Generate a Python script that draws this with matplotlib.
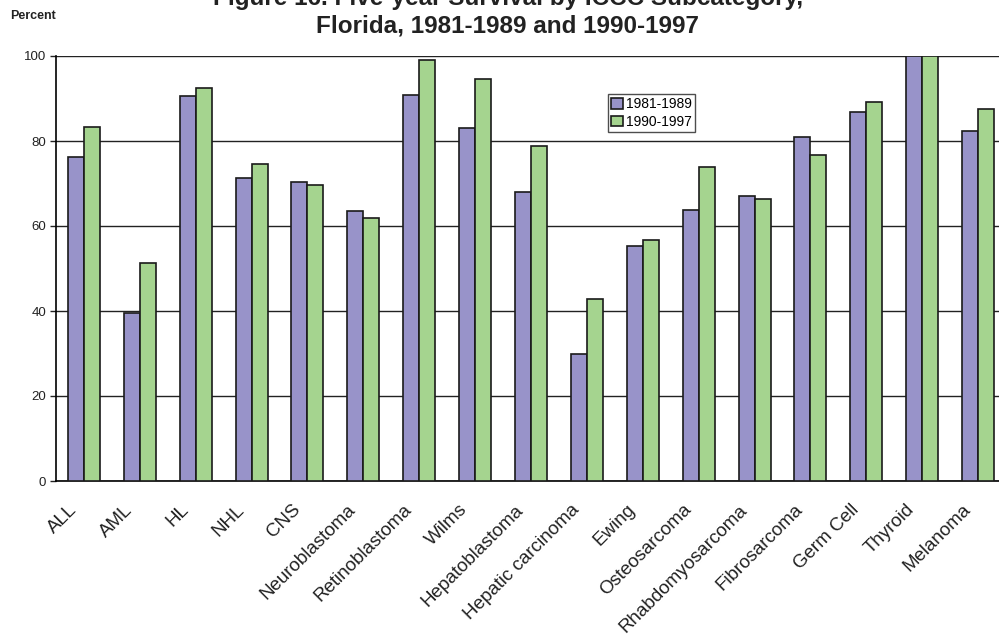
import matplotlib
matplotlib.use("Agg")
import matplotlib.pyplot as plt
import matplotlib.transforms as mtransforms
import numpy as np

categories = ["ALL", "AML", "HL", "NHL", "CNS", "Neuroblastoma", "Retinoblastoma",
              "Wilms", "Hepatoblastoma", "Hepatic carcinoma", "Ewing", "Osteosarcoma",
              "Rhabdomyosarcoma", "Fibrosarcoma", "Germ Cell", "Thyroid", "Melanoma"]
s1981 = [76.2, 39.5, 90.7, 71.2, 70.4, 63.6, 90.8, 83.0, 68.0, 30.0, 55.4, 63.8,
         67.0, 80.9, 86.8, 100.0, 82.3]
s1990 = [83.3, 51.2, 92.5, 74.5, 69.6, 62.0, 99.0, 94.5, 78.8, 42.8, 56.6, 74.0,
         66.3, 76.8, 89.2, 100.0, 87.5]
series_labels = ["1981-1989", "1990-1997"]
yticks = [0, 20, 40, 60, 80, 100]

plt.rcParams['font.family'] = ['Liberation Sans', 'DejaVu Sans']

W, H = 999, 641
fig = plt.figure(figsize=(W / 100, H / 100), dpi=100)
ax = fig.add_axes([56 / W, 1 - 481 / H, 950 / W, 425 / H])

x = np.arange(len(categories))
bw = 0.286
ax.bar(x - bw / 2, s1981, width=bw, color='#9893C9', edgecolor='#1a1a1a',
       linewidth=1.2, label=series_labels[0], zorder=3)
ax.bar(x + bw / 2, s1990, width=bw, color='#A5D48F', edgecolor='#1a1a1a',
       linewidth=1.2, label=series_labels[1], zorder=3)

ax.set_xlim(-0.5, len(categories) - 0.5)
ax.set_ylim(0, 100)
ax.set_yticks(yticks)
ax.tick_params(axis='y', labelsize=9.5, length=4, width=1, colors='#222222', pad=3)
ax.yaxis.grid(True, color='#222222', linewidth=1, zorder=0)
ax.set_xticks(x)
ax.set_xticklabels(categories, rotation=45, ha='right', rotation_mode='anchor',
                   fontsize=13.5, color='#222222')
ax.tick_params(axis='x', length=0, pad=11)
offset = mtransforms.ScaledTranslation(-16 / 100, -5 / 100, fig.dpi_scale_trans)
for lbl in ax.get_xticklabels():
    lbl.set_transform(lbl.get_transform() + offset)

for side in ['top', 'right']:
    ax.spines[side].set_visible(False)
ax.spines['left'].set_linewidth(1.2)
ax.spines['bottom'].set_linewidth(1.2)

leg = ax.legend(loc='upper left', bbox_to_anchor=(0.581, 0.911), fontsize=10,
                frameon=True, fancybox=False, edgecolor='#222222',
                handlelength=0.8, handleheight=0.8, handletextpad=0.25,
                borderpad=0.25, labelspacing=0.25, borderaxespad=0)
leg.get_frame().set_linewidth(1.0)

tx = 508 / W
fig.text(tx, 1 - 5 / H, "Figure 16. Five-year Survival by ICCC Subcategory,",
         ha='center', va='baseline', fontsize=17.5, fontweight='bold', color='#222222')
fig.text(tx, 1 - 32 / H, "Florida, 1981-1989 and 1990-1997",
         ha='center', va='baseline', fontsize=17.5, fontweight='bold', color='#222222')
fig.text(10 / W, 1 - 19 / H, "Percent", ha='left', va='baseline', fontsize=9,
         fontweight='bold', color='#222222')

fig.savefig("out.png", dpi=100)
